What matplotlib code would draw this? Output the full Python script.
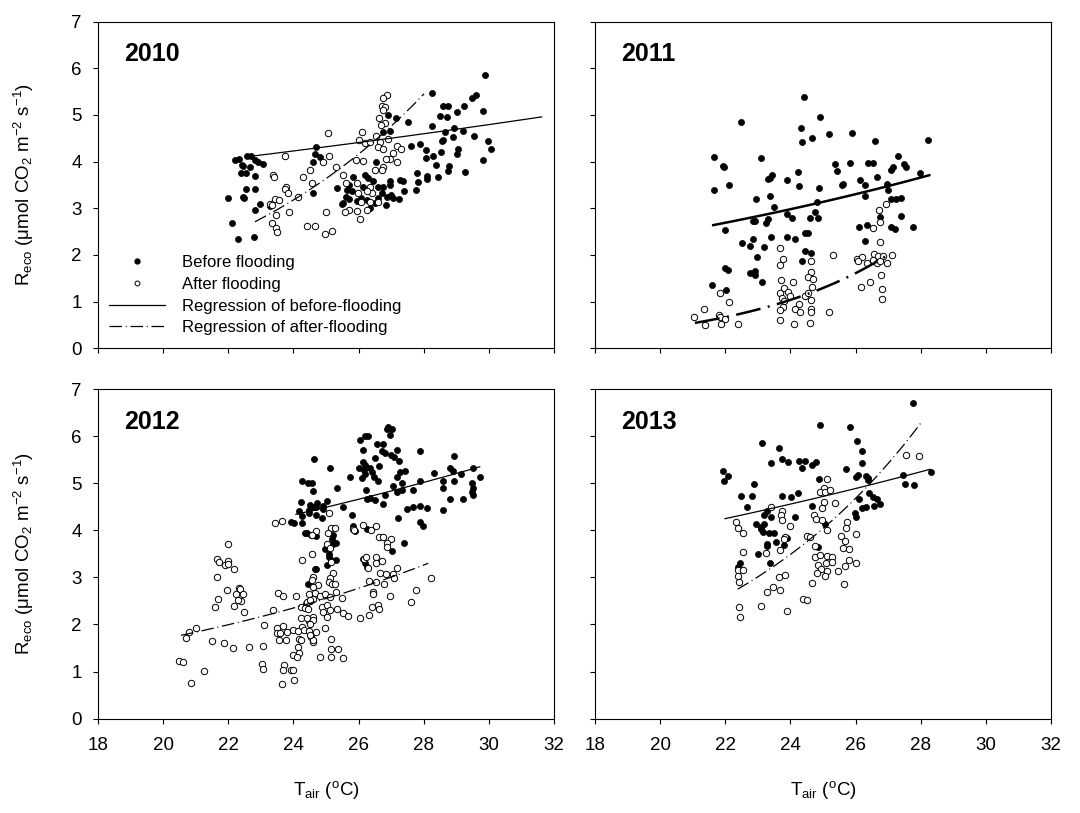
import numpy as np
import matplotlib
matplotlib.use("Agg")
import matplotlib.pyplot as plt
from matplotlib.lines import Line2D

plt.rcParams["font.family"] = ["Liberation Sans", "DejaVu Sans"]
plt.rcParams["mathtext.fontset"] = "custom"
plt.rcParams["mathtext.rm"] = "Liberation Sans"
plt.rcParams["mathtext.it"] = "Liberation Sans:italic"
plt.rcParams["axes.linewidth"] = 0.8

# ---- 2010 ----
x_bef_2010 = [22.21, 22.34, 22.57, 22.69, 22.82, 22.93, 23.06, 22.41, 22.46, 22.67, 22.38, 22.54, 22.82, 22.55, 22.83,
              21.98, 22.46, 22.49, 22.99, 22.83, 23.29, 22.12, 22.30, 22.80, 24.69, 24.66, 24.82, 24.61, 24.59,
              29.88, 28.27, 29.62, 29.47, 28.58, 28.75, 29.01, 29.24, 29.83, 28.50, 28.70, 27.15, 27.53, 26.91, 28.24,
              28.65, 28.93, 29.21, 26.76, 26.98, 29.55, 29.98, 30.08, 28.55, 28.60, 28.89, 27.60, 27.88, 28.07, 28.52,
              28.29, 28.07, 29.06, 29.03, 29.83, 28.39, 28.78, 27.78, 28.76, 29.27, 26.55, 28.09, 28.09, 28.45, 27.81,
              27.75, 27.39, 27.27, 27.35, 26.98, 26.96, 26.61, 26.76, 26.71, 26.86, 27.01, 27.07, 27.24, 25.84, 26.20,
              26.30, 26.45, 26.15, 25.72, 25.35, 25.65, 25.79, 25.61, 25.72, 25.53, 25.48, 25.94, 26.09, 26.25, 26.50,
              26.61, 26.84, 26.35]
y_bef_2010 = [4.04, 4.06, 4.12, 4.13, 4.04, 4.00, 3.95, 3.93, 3.91, 3.88, 3.76, 3.76, 3.69, 3.41, 3.42,
              3.21, 3.25, 3.21, 3.09, 2.96, 3.04, 2.68, 2.34, 2.39, 4.32, 4.16, 4.09, 4.00, 3.32,
              5.86, 5.46, 5.43, 5.36, 5.18, 5.19, 5.07, 5.18, 5.09, 4.98, 4.95, 4.93, 4.84, 5.00, 4.77,
              4.64, 4.73, 4.66, 4.64, 4.66, 4.54, 4.44, 4.26, 4.44, 4.46, 4.52, 4.34, 4.38, 4.24, 4.21,
              4.11, 4.07, 4.26, 4.16, 4.04, 3.93, 3.91, 3.76, 3.79, 3.77, 4.00, 3.69, 3.62, 3.68, 3.57,
              3.39, 3.38, 3.61, 3.59, 3.59, 3.50, 3.46, 3.45, 3.32, 3.25, 3.29, 3.21, 3.19, 3.66, 3.71,
              3.64, 3.59, 3.46, 3.50, 3.43, 3.39, 3.36, 3.25, 3.19, 3.11, 3.09, 3.16, 3.21, 3.18, 3.11,
              3.21, 3.07, 3.01]
x_aft_2010 = [23.74, 23.38, 23.41, 24.30, 24.51, 24.56, 23.77, 23.74, 23.84, 24.15, 23.43, 23.57, 23.28, 23.33, 23.47,
              23.87, 23.34, 23.47, 23.49, 24.41, 24.66, 25.00, 24.98, 25.07, 25.10,
              26.86, 26.76, 26.71, 26.81, 26.74, 26.64, 26.81, 26.69, 26.12, 26.02, 26.20, 26.35, 26.55, 26.66, 26.89,
              26.61, 26.76, 27.17, 27.30, 27.07, 26.96, 26.84, 27.19, 24.90, 25.30, 25.92, 26.15, 26.74, 26.71, 26.50,
              25.51, 25.61, 25.96, 26.35, 26.40, 26.25, 25.97, 26.09, 26.35, 26.61, 26.25, 25.94, 25.72, 25.58, 26.04,
              25.20]
y_aft_2010 = [4.13, 3.71, 3.68, 3.68, 3.82, 3.54, 3.46, 3.41, 3.32, 3.24, 3.19, 3.18, 3.09, 3.06, 2.86,
              2.91, 2.68, 2.57, 2.50, 2.61, 2.62, 2.93, 2.45, 4.61, 4.13,
              5.43, 5.36, 5.19, 5.16, 5.11, 4.93, 4.82, 4.79, 4.64, 4.46, 4.39, 4.41, 4.55, 4.43, 4.49,
              4.32, 4.26, 4.34, 4.26, 4.19, 4.06, 4.05, 3.99, 4.00, 3.89, 4.04, 4.02, 3.89, 3.82, 3.81,
              3.71, 3.55, 3.54, 3.46, 3.32, 3.36, 3.32, 3.14, 3.14, 3.14, 2.96, 2.95, 2.96, 2.91, 2.76,
              2.52]

# ---- 2011 ----
x_bef_2011 = [24.41, 24.92, 25.17, 24.33, 24.34, 24.65, 22.49, 21.65, 21.94, 21.96, 23.11, 21.65, 22.11, 23.30, 23.37,
              23.42, 23.90, 24.22, 24.26, 24.86, 22.93, 23.38, 23.50, 24.81, 24.76, 24.85, 24.60, 23.88, 24.05, 22.84,
              22.92, 23.24, 23.30, 21.98, 22.50, 22.75, 22.86, 23.19, 23.41, 23.89, 24.15, 24.46, 24.53, 24.45, 24.64,
              24.35, 22.98, 21.99, 22.09, 22.75, 22.91, 22.92, 23.14, 21.58, 22.01,
              25.89, 26.59, 28.23, 25.36, 25.44, 25.82, 26.39, 26.54, 27.29, 27.10, 27.15, 27.49, 27.53, 27.97, 26.67,
              26.13, 25.57, 25.62, 26.30, 26.95, 27.00, 26.29, 27.10, 27.23, 27.40, 27.40, 26.74, 26.09, 26.36, 27.08,
              27.20, 27.77, 26.29]
y_bef_2011 = [5.38, 4.96, 4.59, 4.71, 4.42, 4.50, 4.84, 4.09, 3.91, 3.88, 4.08, 3.40, 3.49, 3.63, 3.65,
              3.72, 3.60, 3.77, 3.48, 3.43, 3.19, 3.26, 3.03, 3.13, 2.91, 2.79, 2.79, 2.87, 2.80, 2.72,
              2.73, 2.69, 2.76, 2.53, 2.26, 2.19, 2.34, 2.16, 2.38, 2.39, 2.35, 2.48, 2.46, 2.09, 2.05,
              1.87, 1.95, 1.71, 1.68, 1.62, 1.66, 1.57, 1.41, 1.36, 1.24,
              4.61, 4.44, 4.46, 3.94, 3.80, 3.96, 3.98, 3.98, 4.13, 3.83, 3.88, 3.95, 3.89, 3.75, 3.68,
              3.61, 3.50, 3.51, 3.50, 3.52, 3.39, 3.26, 3.20, 3.20, 3.22, 2.83, 2.82, 2.59, 2.64, 2.59,
              2.56, 2.60, 2.29]
x_aft_2011 = [23.68, 23.76, 23.68, 24.63, 24.62, 24.54, 24.70, 23.72, 24.09, 24.66, 23.81, 23.67, 23.93, 23.98, 23.73,
              23.81, 23.76, 24.44, 24.54, 24.62, 24.26, 24.14, 24.29, 24.62, 24.62, 23.67, 23.68, 24.12, 24.60, 21.83,
              22.11, 21.35, 21.03, 21.80, 21.83, 22.00, 21.86, 21.37, 22.39, 25.19,
              26.92, 26.72, 26.76, 26.52, 26.74, 25.31, 26.03, 26.18, 26.08, 26.57, 26.69, 26.84, 27.12, 26.35, 26.52,
              26.66, 26.95, 26.74, 26.78, 26.16, 26.43, 26.81, 26.82]
y_aft_2011 = [2.14, 1.91, 1.78, 1.88, 1.64, 1.53, 1.48, 1.46, 1.41, 1.31, 1.29, 1.18, 1.21, 1.11, 1.07,
              1.02, 0.89, 1.13, 1.18, 1.03, 0.95, 0.84, 0.77, 0.84, 0.78, 0.81, 0.61, 0.53, 0.55, 1.18,
              0.99, 0.84, 0.66, 0.71, 0.66, 0.63, 0.53, 0.49, 0.51, 0.77,
              3.09, 2.96, 2.71, 2.57, 2.28, 1.99, 1.91, 1.96, 1.86, 2.02, 1.98, 1.98, 2.00, 1.83, 1.89,
              1.83, 1.82, 1.88, 1.56, 1.31, 1.41, 1.26, 1.05]

# ---- 2012 ----
x_bef_2012 = [24.64, 24.26, 24.44, 24.57, 24.59, 24.23, 24.51, 24.64, 24.49, 24.16, 24.28, 23.93, 24.03, 24.26, 24.37,
              24.54, 24.67, 24.45,
              26.91, 26.88, 27.04, 26.98, 26.04, 26.20, 26.30, 26.57, 26.76, 26.14, 26.71, 26.81, 27.01, 27.19, 27.09,
              27.25, 26.50, 27.90, 28.93, 26.14, 26.20, 26.02, 26.18, 26.40, 26.35, 26.64, 26.47, 26.61, 26.12, 26.20,
              25.12, 25.74, 27.27, 27.42, 27.19, 27.32, 27.07, 27.19, 27.33, 28.32, 28.80, 28.91, 29.16, 29.52, 27.90,
              28.60, 28.60, 28.94, 29.72, 29.47, 29.52, 29.47, 29.50, 27.68, 25.33, 26.22, 26.81, 26.25, 26.35, 26.50,
              26.74, 28.80, 29.21, 24.73, 25.02, 24.90, 24.71, 25.53, 24.49, 24.92, 24.69, 24.87, 27.49, 27.68, 27.88,
              28.09, 28.58, 25.80, 27.20, 27.90, 27.97, 25.84, 25.89, 26.25, 24.41, 24.69, 25.22, 25.19, 25.22, 25.31,
              27.39, 27.04, 24.97, 25.10, 25.17, 25.31, 25.10, 26.14, 26.20, 26.25, 25.02, 24.71]
y_bef_2012 = [5.51, 5.06, 5.01, 5.01, 4.84, 4.60, 4.54, 4.50, 4.43, 4.41, 4.30, 4.18, 4.16, 4.15, 3.95,
              3.90, 3.17, 2.87,
              6.20, 6.15, 6.15, 6.03, 5.93, 6.00, 6.00, 5.84, 5.84, 5.71, 5.69, 5.64, 5.60, 5.72, 5.57,
              5.48, 5.53, 5.69, 5.58, 5.46, 5.39, 5.32, 5.28, 5.25, 5.32, 5.37, 5.14, 5.05, 5.11, 5.20,
              5.33, 5.13, 5.25, 5.26, 5.13, 5.00, 4.94, 4.82, 4.87, 5.23, 5.32, 5.27, 5.20, 5.32, 5.06,
              5.05, 4.91, 5.06, 5.13, 5.00, 4.91, 4.82, 4.75, 4.87, 4.91, 4.86, 4.75, 4.67, 4.68, 4.64,
              4.56, 4.66, 4.67, 4.59, 4.63, 4.52, 4.49, 4.50, 4.37, 4.45, 4.33, 4.27, 4.45, 4.49, 4.52,
              4.47, 4.43, 4.33, 4.26, 4.18, 4.10, 4.09, 3.99, 4.04, 3.94, 3.88, 3.90, 3.81, 3.72, 3.74,
              3.74, 3.57, 3.60, 3.50, 3.38, 3.38, 3.43, 3.40, 3.30, 3.23, 3.26, 3.17]
x_aft_2012 = [23.45, 23.64, 21.99, 21.66, 21.71, 21.98, 21.91, 21.98, 22.19, 21.65, 24.56, 24.26, 21.95, 22.32, 22.37,
              22.24, 22.46, 22.40, 22.29, 22.19, 21.70, 21.61, 22.49, 23.52, 23.67, 24.08, 23.39, 24.23, 24.39, 24.51,
              24.59, 24.23, 24.49, 24.59, 24.28, 23.09, 23.49, 23.67, 23.49, 23.59, 23.57, 23.77, 23.80, 23.98, 24.13,
              24.34, 24.18, 24.23, 24.49, 24.54, 24.59, 24.15, 24.18, 23.98, 24.11, 21.01, 20.79, 20.69, 21.50, 21.88,
              22.14, 22.63, 23.06, 20.50, 20.62, 21.27, 20.86, 23.03, 23.08, 23.72, 23.67, 23.93, 24.00, 23.64, 24.01,
              25.10, 25.82, 25.86, 26.14, 26.37, 26.53, 25.15, 25.28, 25.07, 24.71, 24.56, 26.64, 26.74, 27.01, 26.88,
              26.88, 25.02, 25.12, 26.16, 26.22, 26.55, 26.53, 26.71, 26.30, 25.17, 25.22, 25.12, 25.10, 25.19, 25.28,
              24.59, 24.56, 24.77, 27.17, 26.66, 26.84, 27.07, 27.09, 26.78, 26.53, 26.33, 28.21, 26.43, 26.43, 26.98,
              27.76, 27.60, 24.61, 24.49, 24.66, 24.82, 24.97, 25.12, 25.48, 25.31, 24.41, 24.51, 24.36, 24.46, 24.87,
              25.02, 24.92, 25.12, 25.33, 25.51, 25.69, 26.40, 26.61, 26.63, 26.32, 26.04, 25.02, 24.61, 24.51, 24.41,
              24.97, 24.71, 24.61, 24.51, 25.17, 25.14, 25.38, 25.17, 25.53, 24.82]
y_aft_2012 = [4.16, 4.19, 3.72, 3.40, 3.32, 3.35, 3.26, 3.28, 3.17, 3.01, 3.50, 3.38, 2.73, 2.78, 2.75,
              2.64, 2.64, 2.50, 2.52, 2.40, 2.55, 2.38, 2.27, 2.67, 2.60, 2.61, 2.31, 2.38, 2.43, 2.50,
              2.55, 2.13, 2.07, 2.16, 1.95, 1.99, 1.93, 1.97, 1.81, 1.81, 1.67, 1.67, 1.85, 1.88, 1.87,
              1.88, 1.69, 1.67, 1.86, 1.74, 1.63, 1.53, 1.39, 1.35, 1.31, 1.92, 1.84, 1.72, 1.65, 1.60,
              1.51, 1.53, 1.54, 1.22, 1.21, 1.02, 0.75, 1.17, 1.06, 1.14, 1.03, 1.04, 1.04, 0.73, 0.82,
              4.36, 4.04, 4.01, 4.11, 4.01, 4.10, 4.06, 4.06, 3.95, 3.99, 3.90, 3.86, 3.86, 3.81, 3.74,
              3.65, 3.71, 3.62, 3.40, 3.43, 3.43, 3.30, 3.35, 3.21, 3.33, 3.09, 2.98, 2.91, 2.87, 2.86,
              3.00, 2.94, 2.84, 3.21, 3.09, 3.07, 3.07, 2.98, 2.87, 2.91, 2.93, 2.99, 2.70, 2.65, 2.61,
              2.74, 2.47, 2.80, 2.65, 2.67, 2.60, 2.65, 2.59, 2.57, 2.70, 2.48, 2.52, 2.36, 2.32, 2.38,
              2.41, 2.27, 2.31, 2.32, 2.25, 2.18, 2.38, 2.41, 2.32, 2.21, 2.13, 2.16, 2.09, 2.02, 2.13,
              1.92, 1.85, 1.68, 1.77, 1.70, 1.47, 1.47, 1.31, 1.28, 1.31]

# ---- 2013 ----
x_bef_2013 = [24.92, 23.14, 23.65, 23.40, 23.73, 23.93, 24.27, 24.44, 24.34, 24.65, 24.78, 21.94, 22.09, 21.96, 22.88,
              24.88, 22.48, 22.81, 23.73, 24.03, 24.24, 22.68, 24.65, 23.27, 23.19, 23.39, 24.15, 22.93, 23.09, 23.16,
              23.34, 23.50, 23.19, 23.11, 23.55, 23.27, 23.27, 23.80, 23.90, 22.99, 24.85, 23.37, 22.45, 22.40,
              27.76, 25.82, 26.05, 26.21, 26.21, 25.69, 26.01, 26.08, 26.33, 26.39, 26.38, 27.46, 28.31, 27.51, 27.80,
              26.11, 26.42, 26.52, 26.64, 26.76, 26.56, 26.33, 26.21, 25.98, 26.01, 25.06]
y_bef_2013 = [6.25, 5.85, 5.76, 5.44, 5.52, 5.46, 5.47, 5.48, 5.32, 5.39, 5.46, 5.27, 5.16, 5.06, 4.98,
              5.09, 4.74, 4.74, 4.74, 4.72, 4.79, 4.50, 4.52, 4.42, 4.33, 4.28, 4.28, 4.13, 4.03, 3.97,
              3.94, 3.95, 4.13, 4.08, 3.76, 3.71, 3.67, 3.69, 3.84, 3.50, 3.65, 3.30, 3.30, 3.23,
              6.72, 6.19, 5.91, 5.69, 5.44, 5.30, 5.13, 5.18, 5.15, 5.12, 5.07, 5.17, 5.25, 4.98, 4.96,
              4.66, 4.79, 4.72, 4.66, 4.57, 4.52, 4.50, 4.48, 4.36, 4.29, 4.13]
x_aft_2013 = [25.13, 25.03, 24.92, 25.05, 23.39, 23.73, 23.71, 23.73, 23.99, 25.02, 24.98, 24.73, 24.78, 24.98, 25.11,
              22.32, 22.40, 22.55, 23.83, 23.80, 24.51, 24.60, 24.75, 23.67, 23.24, 22.53, 24.75, 24.90, 25.13, 25.09,
              22.38, 22.55, 22.40, 22.43, 24.85, 24.93, 25.11, 24.80, 25.05, 24.65, 23.65, 23.83, 23.27, 23.47, 23.67,
              24.39, 24.51, 22.43, 22.45, 23.11, 23.88,
              27.56, 27.95, 25.21, 25.36, 25.72, 25.70, 26.01, 25.54, 25.67, 25.60, 25.80, 25.26, 25.26, 25.80, 26.01,
              25.46, 25.67, 25.65]
y_aft_2013 = [5.09, 4.91, 4.82, 4.81, 4.50, 4.42, 4.33, 4.23, 4.10, 4.60, 4.47, 4.33, 4.25, 4.22, 4.01,
              4.17, 4.06, 3.95, 3.85, 3.81, 3.88, 3.86, 3.67, 3.58, 3.51, 3.55, 3.44, 3.48, 3.45, 3.31,
              3.16, 3.16, 3.03, 2.91, 3.26, 3.19, 3.14, 3.09, 3.03, 2.89, 3.01, 3.05, 2.70, 2.79, 2.73,
              2.54, 2.53, 2.38, 2.15, 2.40, 2.28,
              5.60, 5.58, 4.86, 4.59, 4.18, 4.06, 3.92, 3.88, 3.78, 3.62, 3.60, 3.44, 3.33, 3.38, 3.30,
              3.14, 3.24, 2.87]

# exponential fits Reco = a * exp(b * Tair): (a, b, Tmin, Tmax)
fit_bef = {2010: (2.56, 0.0209, 22.77, 31.62), 2011: (0.870, 0.0513, 21.63, 28.26),
           2012: (1.777, 0.0371, 24.08, 29.72), 2013: (1.964, 0.0351, 21.99, 28.28)}
fit_aft = {2010: (0.1253, 0.1347, 22.82, 28.01), 2011: (0.00528, 0.22, 21.07, 27.05),
           2012: (0.3276, 0.0821, 20.55, 28.14), 2013: (0.1025, 0.147, 22.38, 27.99)}
fit_lw = {2010: 0.9, 2011: 1.8, 2012: 0.9, 2013: 0.9}

years = [2010, 2011, 2012, 2013]
before = {2010: (x_bef_2010, y_bef_2010), 2011: (x_bef_2011, y_bef_2011),
          2012: (x_bef_2012, y_bef_2012), 2013: (x_bef_2013, y_bef_2013)}
after = {2010: (x_aft_2010, y_aft_2010), 2011: (x_aft_2011, y_aft_2011),
         2012: (x_aft_2012, y_aft_2012), 2013: (x_aft_2013, y_aft_2013)}

dashdot = (0, (10, 3, 0.8, 3))
ylab = "R$_{\\rm eco}$ (μmol CO$_2$ m$^{-2}$ s$^{-1}$)"
xlab = "T$_{\\rm air}$ ($^{\\rm o}$C)"

fig = plt.figure(figsize=(10.8, 8.13), dpi=100)
pos = {2010: [0.0906, 0.5716, 0.4224, 0.4019], 2011: [0.5509, 0.5716, 0.4224, 0.4019],
       2012: [0.0906, 0.1162, 0.4224, 0.4049], 2013: [0.5509, 0.1162, 0.4224, 0.4049]}

for i, yr in enumerate(years):
    ax = fig.add_axes(pos[yr])
    xb, yb = before[yr]
    xa, ya = after[yr]
    ax.plot(xb, yb, "o", color="black", ms=4.4, mew=0.5, ls="none")
    ax.plot(xa, ya, "o", mfc="white", mec="black", ms=4.6, mew=0.7, ls="none")

    a, b, t0, t1 = fit_bef[yr]
    t = np.linspace(t0, t1, 60)
    ax.plot(t, a * np.exp(b * t), color="black", lw=fit_lw[yr])
    a, b, t0, t1 = fit_aft[yr]
    t = np.linspace(t0, t1, 60)
    ax.plot(t, a * np.exp(b * t), color="black", lw=fit_lw[yr], ls=dashdot)

    ax.set_xlim(18, 32)
    ax.set_ylim(0, 7)
    ax.set_xticks(np.arange(18, 33, 2))
    ax.set_yticks(np.arange(0, 8, 1))
    ax.tick_params(direction="out", length=3.6, width=0.8, labelsize=13.5)
    ax.tick_params(axis="x", pad=10)
    ax.tick_params(axis="y", pad=8)
    if i < 2:
        ax.tick_params(axis="x", labelbottom=False)
    else:
        ax.set_xlabel(xlab, fontsize=13.5)
        ax.xaxis.set_label_coords(0.5, -0.185)
    if i % 2 == 1:
        ax.tick_params(axis="y", labelleft=False)
    else:
        ax.set_ylabel(ylab, fontsize=13.5)
        ax.yaxis.set_label_coords(-0.135, 0.5)

    ax.text(0.057, 0.90, str(yr), transform=ax.transAxes, fontsize=18,
            fontweight="bold", va="center", ha="left")

    if yr == 2010:
        handles = [Line2D([], [], marker="o", color="black", ms=3.5, ls="none"),
                   Line2D([], [], marker="o", mfc="white", mec="black", ms=3.5, mew=0.7, ls="none"),
                   Line2D([], [], color="black", lw=0.9),
                   Line2D([], [], color="black", lw=0.9, ls=dashdot)]
        labels = ["Before flooding", "After flooding",
                  "Regression of before-flooding", "Regression of after-flooding"]
        ax.legend(handles, labels, loc="lower left", bbox_to_anchor=(0.024, 0.04),
                  frameon=False, fontsize=12, handlelength=3.4, handletextpad=1.0,
                  labelspacing=0.4, borderpad=0, borderaxespad=0)

fig.savefig("out.png", dpi=100)
